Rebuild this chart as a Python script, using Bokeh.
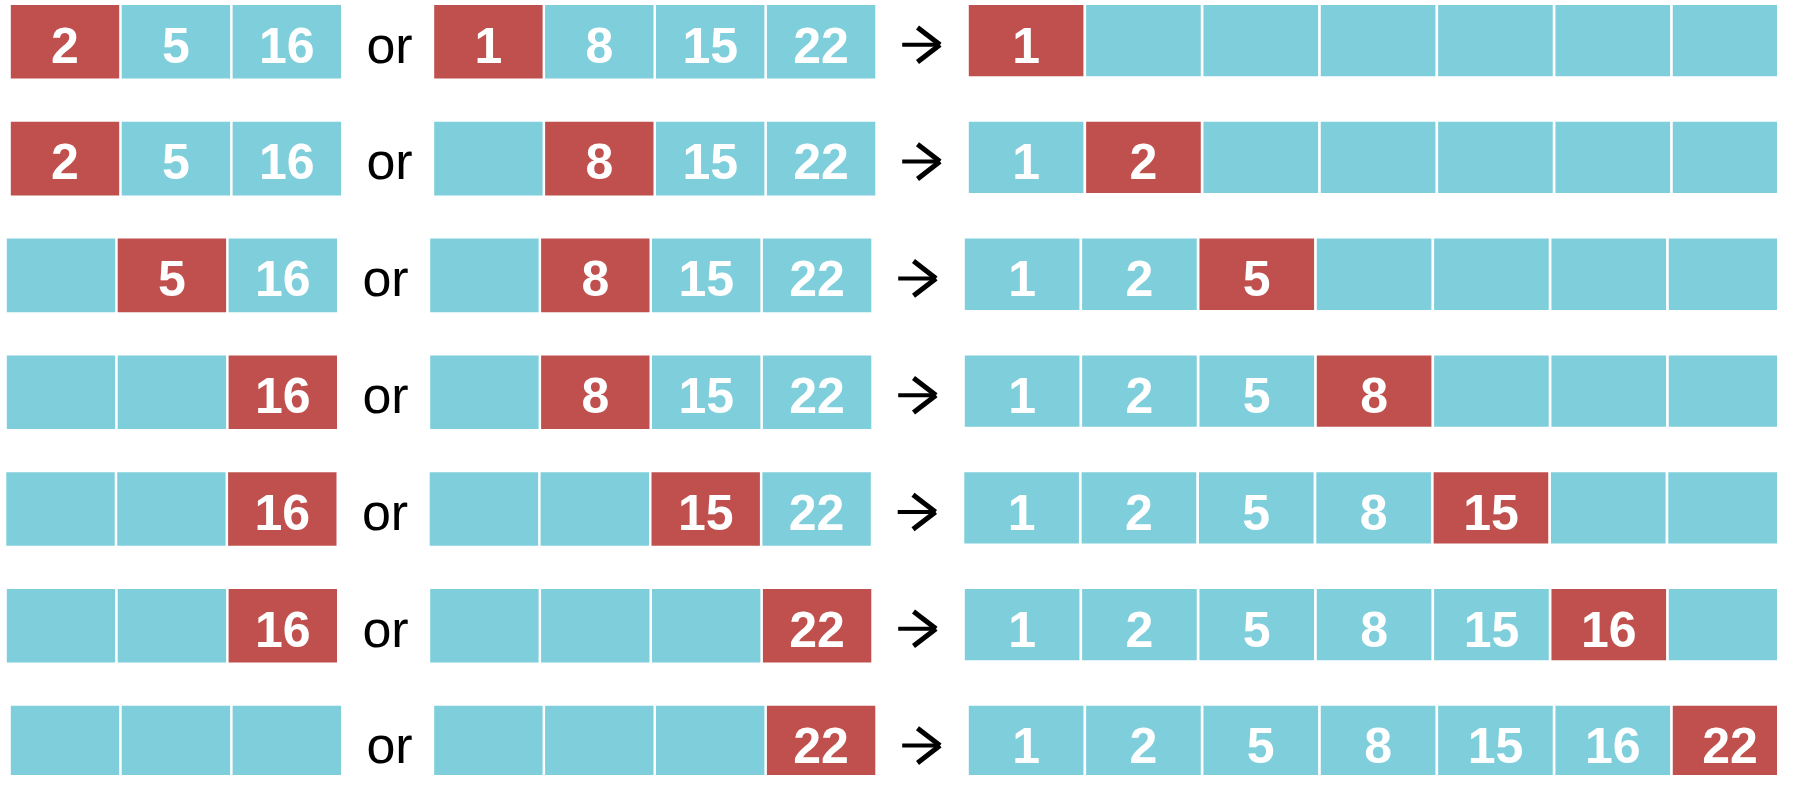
from bokeh.plotting import figure
from bokeh.models import ColumnDataSource, Range1d
from bokeh.embed import file_html
from bokeh.resources import INLINE
from bokeh.core.properties import value

# ---------------- data ----------------
left_labels = [
    ["2", "5", "16"],
    ["2", "5", "16"],
    ["", "5", "16"],
    ["", "", "16"],
    ["", "", "16"],
    ["", "", "16"],
    ["", "", ""],
]
left_red = [0, 0, 1, 2, 2, 2, None]

middle_labels = [
    ["1", "8", "15", "22"],
    ["", "8", "15", "22"],
    ["", "8", "15", "22"],
    ["", "8", "15", "22"],
    ["", "", "15", "22"],
    ["", "", "", "22"],
    ["", "", "", "22"],
]
middle_red = [0, 1, 1, 1, 2, 3, 3]

merged_labels = [
    ["1", "", "", "", "", "", ""],
    ["1", "2", "", "", "", "", ""],
    ["1", "2", "5", "", "", "", ""],
    ["1", "2", "5", "8", "", "", ""],
    ["1", "2", "5", "8", "15", "", ""],
    ["1", "2", "5", "8", "15", "16", ""],
    ["1", "2", "5", "8", "15", "16", "22"],
]
merged_red = [0, 1, 2, 3, 4, 5, 6]

joiner_text = "or"

# ---------------- layout / style ----------------
PAGE_MARGIN = 8
W, H = 1793 - 2 * PAGE_MARGIN, 791 - 2 * PAGE_MARGIN
ROW_TOP0 = 4.5
ROW_PITCH = 116.8
ROW_SHIFT = [0, 0, -4, -4, -4.5, -4, 0]
RED = "#C0504D"
CYAN = "#7ECFDB"
BASELINE_OFF = 56.6
TEXT_DY = -16.5   # compensation for where the renderer puts the alphabetic baseline

groups = [
    # labels, red index, x0, pitch, gap, height
    (left_labels, left_red, 10.3, 110.9, 2.5, 73.6),
    (middle_labels, middle_red, 433.7, 110.9, 2.5, 73.6),
    (merged_labels, merged_red, 968.3, 117.33, 2.7, 71.3),
]
OR_X = 389.0
ARROW_X0, ARROW_X1, ARROW_HEAD_BACK = 901.7, 939.5, 917.0
ARROW_YOFF, ARROW_HALF = 39.8, 17.3

cells = dict(left=[], right=[], top=[], bottom=[], color=[])
labels = dict(x=[], y=[], text=[])
for labs, reds, x0, pitch, gap, hgt in groups:
    for r, row in enumerate(labs):
        top = ROW_TOP0 + r * ROW_PITCH
        for c, t in enumerate(row):
            lft = x0 + ROW_SHIFT[r] + c * pitch
            rgt = lft + pitch - gap
            cells["left"].append(lft)
            cells["right"].append(rgt)
            cells["top"].append(top)
            cells["bottom"].append(top + hgt)
            cells["color"].append(RED if reds[r] == c else CYAN)
            labels["x"].append((lft + rgt) / 2)
            labels["y"].append(top + BASELINE_OFF + TEXT_DY)
            labels["text"].append(t)

or_src = dict(x=[], y=[], text=[])
shaft = dict(x0=[], y0=[], x1=[], y1=[])
head = dict(x0=[], y0=[], x1=[], y1=[])
for r in range(len(left_labels)):
    top = ROW_TOP0 + r * ROW_PITCH
    sh = ROW_SHIFT[r]
    or_src["x"].append(OR_X + sh)
    or_src["y"].append(top + BASELINE_OFF + TEXT_DY - 0.5)
    or_src["text"].append(joiner_text)
    yc = top + ARROW_YOFF
    shaft["x0"].append(ARROW_X0 + sh)
    shaft["y0"].append(yc)
    shaft["x1"].append(ARROW_X1 - 3 + sh)
    shaft["y1"].append(yc)
    for s in (-1, 1):
        head["x0"].append(ARROW_HEAD_BACK + sh)
        head["y0"].append(yc + s * ARROW_HALF)
        head["x1"].append(ARROW_X1 + sh)
        head["y1"].append(yc)

p = figure(width=W, height=H, output_backend="svg", toolbar_location=None,
           x_range=Range1d(0, W), y_range=Range1d(H, 0),
           x_axis_type=None, y_axis_type=None, min_border=0)
p.grid.visible = False
p.outline_line_color = None
p.background_fill_color = "white"
p.border_fill_color = "white"

p.quad(left="left", right="right", top="top", bottom="bottom", fill_color="color",
       line_color=None, source=ColumnDataSource(cells))
p.text(x="x", y="y", text="text", source=ColumnDataSource(labels),
       text_font=value("Liberation Sans"), text_font_size="50px", text_font_style="bold",
       text_color="white", text_align="center", text_baseline="alphabetic")
p.text(x="x", y="y", text="text", source=ColumnDataSource(or_src),
       text_font=value("Liberation Sans"), text_font_size="52px",
       text_color="black", text_align="center", text_baseline="alphabetic")
p.segment(x0="x0", y0="y0", x1="x1", y1="y1", source=ColumnDataSource(shaft),
          line_color="black", line_width=4)
p.segment(x0="x0", y0="y0", x1="x1", y1="y1", source=ColumnDataSource(head),
          line_color="black", line_width=5, line_cap="butt")

open("out.html", "w").write(file_html(p, INLINE))
